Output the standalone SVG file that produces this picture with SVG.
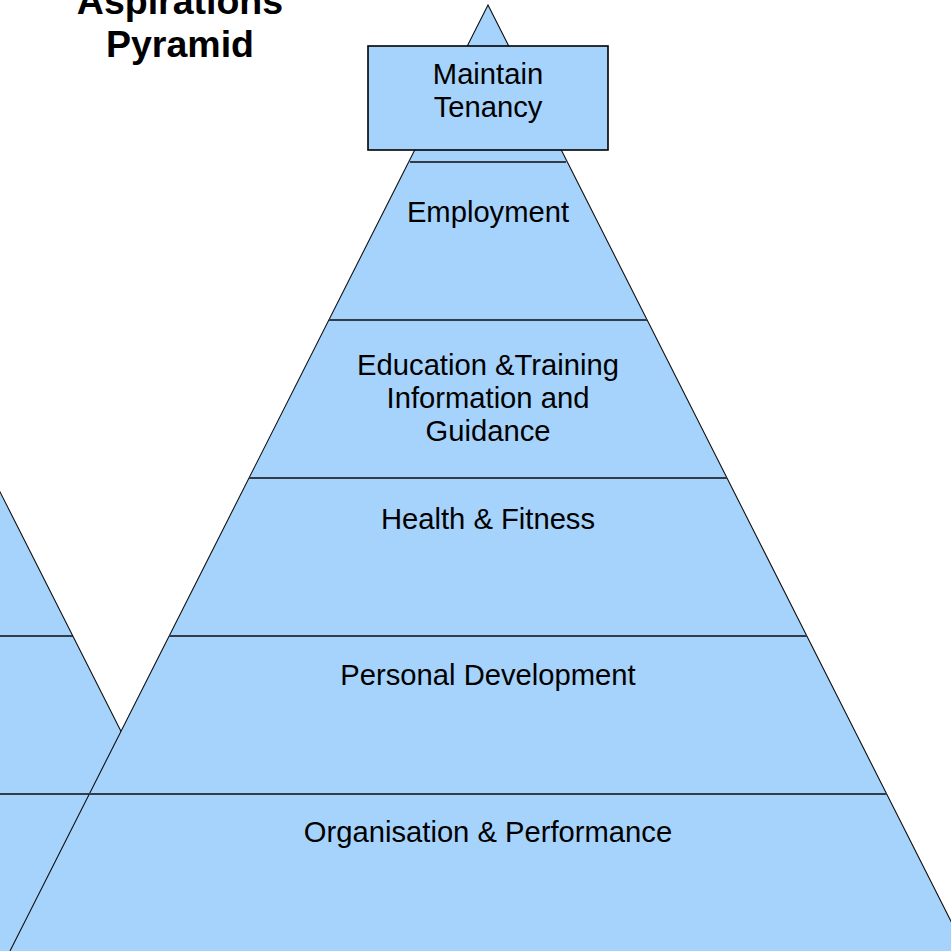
<svg xmlns="http://www.w3.org/2000/svg" width="951" height="951" viewBox="0 0 951 951">
<style>
.fill{fill:#a6d3fc;stroke:none}
.edge{fill:none;stroke:#111;stroke-width:1.1}
.band{stroke:#333d4a;stroke-width:2;fill:none}
.lbl{font-family:"Liberation Sans",Arial,sans-serif;font-size:29.2px;fill:#000;text-anchor:middle}
.title{font-family:"Liberation Sans",Arial,sans-serif;font-size:37.5px;font-weight:bold;fill:#000;text-anchor:middle}
</style>
<rect width="951" height="951" fill="#fff"/>
<g id="left-pyramid">
<polygon class="fill" points="-246,5 -724,951 232,951"/>
<line class="band" x1="-1" y1="636" x2="73" y2="636"/>
<line class="band" x1="-1" y1="794" x2="152" y2="794"/>
<polyline class="edge" points="-724,951 -246,5 232,951"/>
</g>
<g id="title">
<text class="title" x="180" y="14">Aspirations</text>
<text class="title" x="180" y="57">Pyramid</text>
</g>
<g id="main-pyramid">
<polygon class="fill" points="488,5 10,951 966,951"/>
<polyline class="edge" points="10,951 488,5 966,951"/>
</g>
<g id="connectors">
<line class="band" x1="410" y1="162" x2="566" y2="162"/>
<line class="band" x1="329" y1="320" x2="647" y2="320"/>
<line class="band" x1="249" y1="478" x2="727" y2="478"/>
<line class="band" x1="169" y1="636" x2="807" y2="636"/>
<line class="band" x1="89" y1="794" x2="887" y2="794"/>
</g>
<g id="maintain-tenancy">
<rect x="368" y="46" width="240" height="104" fill="#a6d3fc" stroke="#000" stroke-width="1.6"/>
<text class="lbl" x="488" y="84">Maintain</text>
<text class="lbl" x="488" y="117">Tenancy</text>
</g>
<g id="employment">
<text class="lbl" x="488" y="222">Employment</text>
</g>
<g id="education">
<text class="lbl" x="488" y="375">Education &amp;Training</text>
<text class="lbl" x="488" y="408">Information and</text>
<text class="lbl" x="488" y="441">Guidance</text>
</g>
<g id="health">
<text class="lbl" x="488" y="529">Health &amp; Fitness</text>
</g>
<g id="personal">
<text class="lbl" x="488" y="685">Personal Development</text>
</g>
<g id="organisation">
<text class="lbl" x="488" y="842">Organisation &amp; Performance</text>
</g>
</svg>
